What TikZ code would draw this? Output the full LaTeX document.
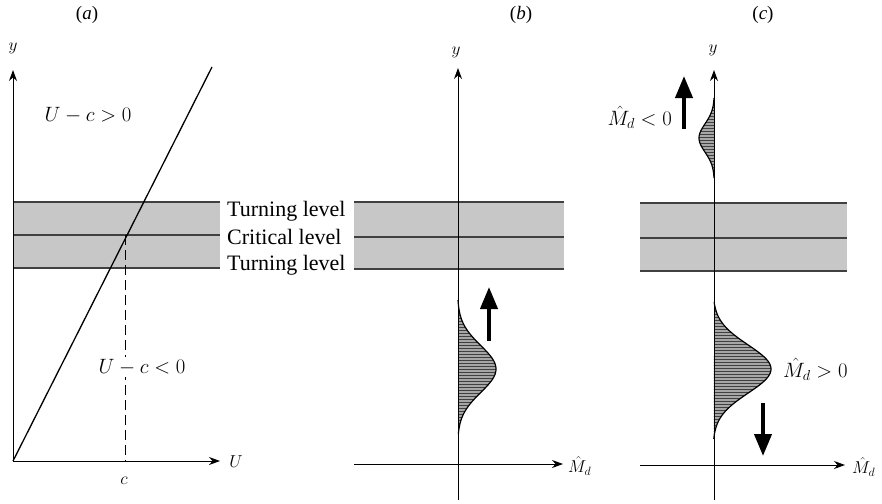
\documentclass[tikz,border=0pt]{standalone}
\usepackage{fontspec}
\setmainfont{Liberation Serif}
\usetikzlibrary{arrows.meta}
\tikzset{
  axis/.style={line width=1pt, -{Stealth[length=11pt,width=8pt]}},
  level/.style={line width=1.3pt, black!75},
  band/.style={fill=black!22},
  bigarrow/.style={line width=4pt, -{Triangle[length=22pt,width=17pt]}},
  lbl/.style={font=\fontsize{20}{22}\selectfont, inner sep=0pt},
  txt/.style={font=\fontsize{22}{24}\selectfont, inner sep=0pt},
  panel/.style={font=\fontsize{19}{21}\selectfont, inner sep=0pt},
  axlbl/.style={font=\fontsize{17}{19}\selectfont, inner sep=0pt},
  hatchfill/.style={fill=black!35},
  hatchline/.style={line width=0.9pt, black!75},
  curve/.style={line width=1.2pt}
}
\begin{document}
\begin{tikzpicture}[x=1pt,y=-1pt]
\useasboundingbox (0,0) rectangle (882,503);
% ---------------- bands
\fill[band] (13,202) rectangle (220,268);
\fill[band] (354,202) rectangle (564,269);
\fill[band] (640,203) rectangle (847,271);
\draw[level] (13,202) -- (220,202);
\draw[level] (13,235) -- (220,235);
\draw[level] (13,268) -- (220,268);
\draw[level] (354,202) -- (564,202);
\draw[level] (354,237) -- (564,237);
\draw[level] (354,269) -- (564,269);
\draw[level] (640,203) -- (847,203);
\draw[level] (640,238) -- (847,238);
\draw[level] (640,271) -- (847,271);
% ---------------- panel labels
\node[panel] (pa) at (87,15) {(\textit{a})};
\node[panel] (pb) at (521,15) {(\textit{b})};
\node[panel] (pc) at (763,15) {(\textit{c})};
% ---------------- panel (a)
\coordinate (Oa) at (13,461);
\coordinate (Ya) at (13,70);
\coordinate (Ua) at (220,461);
\coordinate (La) at (212,67);
\coordinate (Ca) at (125,235);
\coordinate (Cb) at (125,461);
\draw[axis] (Oa) -- (Ya);
\draw[axis] (Oa) -- (Ua);
\draw[line width=1.3pt] (Oa) -- (La);
\draw[line width=1pt, dash pattern=on 10pt off 5pt] (Ca) -- (Cb);
\node[axlbl] (ya) at (13,48) {$y$};
\node[axlbl, font=\fontsize{19}{21}\selectfont] (ul) at (236,462) {$U$};
\node[axlbl] (cl) at (124,481) {$c$};
\node[lbl] (gt) at (88,115) {$U-c>0$};
\node[lbl, fill=white, inner sep=2pt] (lt) at (142,367) {$U-c<0$};
\node[txt, anchor=west] (t1) at (227,211) {Turning level};
\node[txt, anchor=west] (t2) at (227,237) {Critical level};
\node[txt, anchor=west] (t3) at (227,265) {Turning level};
% ---------------- panel (b)
\coordinate (Bb) at (458,500);
\coordinate (Bt) at (458,68);
\coordinate (Bl) at (354,464);
\coordinate (Br) at (563,464);
\begin{scope}
\clip plot[domain=300:434, samples=80, variable=\t] ({458+38*(exp(-((\t-369)/33)^2)-0.0123)/0.9877}, \t) -- cycle;
\fill[hatchfill] (440,295) rectangle (500,440);
\foreach \k in {0,...,48} \draw[hatchline] (440,{300+3*\k}) -- (500,{300+3*\k});
\end{scope}
\draw[curve] plot[domain=300:434, samples=80, variable=\t] ({458+38*(exp(-((\t-369)/33)^2)-0.0123)/0.9877}, \t);
\draw[axis] (Bb) -- (Bt);
\draw[axis] (Bl) -- (Br);
\node[axlbl] (yb) at (456,52) {$y$};
\node[axlbl, anchor=west] (mb) at (568,466) {$\hat{M}_{d}$};
\coordinate (Ab1) at (489,341);
\coordinate (Ab2) at (489,287);
\draw[bigarrow] (Ab1) -- (Ab2);
% ---------------- panel (c)
\coordinate (Cbot) at (714,500);
\coordinate (Ctop) at (714,70);
\coordinate (Cl) at (640,465);
\coordinate (Cr) at (845,465);
\begin{scope}
\clip plot[domain=98:178, samples=60, variable=\t] ({714-15*(exp(-((\t-138)/20)^2)-0.0183)/0.9817}, \t) -- cycle;
\fill[hatchfill] (690,95) rectangle (716,182);
\foreach \k in {0,...,27} \draw[hatchline] (690,{98+3*\k}) -- (716,{98+3*\k});
\end{scope}
\draw[curve] plot[domain=98:178, samples=60, variable=\t] ({714-15*(exp(-((\t-138)/20)^2)-0.0183)/0.9817}, \t);
\begin{scope}
\clip plot[domain=302:439, samples=80, variable=\t] ({714+57*(exp(-((\t-369)/34)^2)-0.0183)/0.9817}, \t) -- cycle;
\fill[hatchfill] (710,298) rectangle (775,442);
\foreach \k in {0,...,46} \draw[hatchline] (710,{302+3*\k}) -- (775,{302+3*\k});
\end{scope}
\draw[curve] plot[domain=302:439, samples=80, variable=\t] ({714+57*(exp(-((\t-369)/34)^2)-0.0183)/0.9817}, \t);
\draw[axis] (Cbot) -- (Ctop);
\draw[axis] (Cl) -- (Cr);
\node[axlbl] (yc) at (713,50) {$y$};
\node[axlbl, anchor=west] (mc) at (852,467) {$\hat{M}_{d}$};
\coordinate (Ac1) at (684,129);
\coordinate (Ac2) at (684,76);
\draw[bigarrow] (Ac1) -- (Ac2);
\coordinate (Ad1) at (763,403);
\coordinate (Ad2) at (763,456);
\draw[bigarrow] (Ad1) -- (Ad2);
\node[lbl, anchor=east, font=\fontsize{19.5}{21}\selectfont] (mneg) at (672,117) {$\hat{M}_{d}<0$};
\node[lbl, anchor=west] (mpos) at (783,369) {$\hat{M}_{d}>0$};
\end{tikzpicture}
\end{document}
